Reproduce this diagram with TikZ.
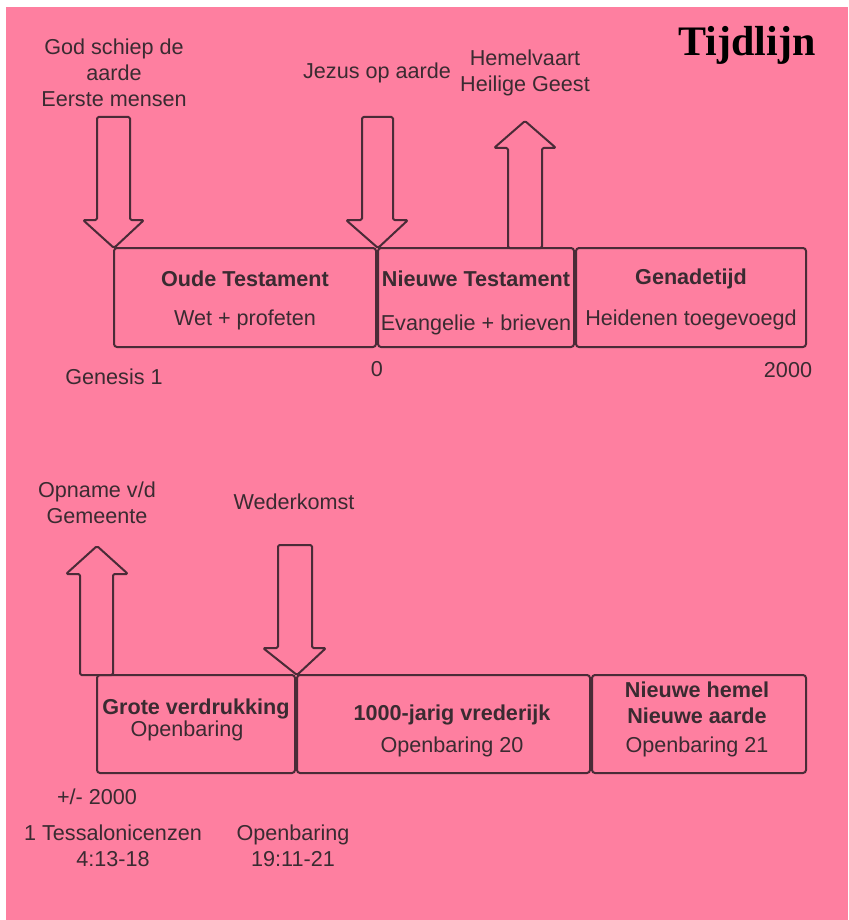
\documentclass[tikz,border=0pt]{standalone}
\usepackage{fontspec}
\setmainfont{Liberation Sans}
\newfontfamily\titlefont{Liberation Serif}
\definecolor{bgpink}{HTML}{FE7FA0}
\definecolor{edge}{HTML}{4A2B37}
\definecolor{ink}{HTML}{3A2B31}
\begin{document}
\begin{tikzpicture}[x=1pt,y=-1pt,
  lbl/.style={text=ink, font=\fontsize{21.6}{26}\selectfont, align=center, inner sep=0pt},
  hd/.style={text=ink, font=\bfseries\fontsize{21.6}{26}\selectfont, align=center, inner sep=0pt},
  period/.style={draw=edge, line width=2pt, rounded corners=3pt, anchor=north west, inner sep=0pt, outer sep=0pt},
  blockarrow/.style={draw=edge, line width=2pt, rounded corners=1.5pt, line join=round}]
\useasboundingbox (0,0) rectangle (848,920);
\fill[white] (0,0) rectangle (848,920);
\fill[bgpink] (6,7) rectangle (848,920);

% title
\node[text=black, font=\titlefont\bfseries\fontsize{42}{48}\selectfont, inner sep=0pt] (title) at (747,45) {Tijdlijn};

% ---------- top timeline ----------
\node[period, minimum width=262pt, minimum height=99pt] (ot) at (114,248) {};
\node[period, minimum width=196pt, minimum height=99pt] (nt) at (378,248) {};
\node[period, minimum width=230pt, minimum height=99pt] (gt) at (576,248) {};

\node[hd] (otH) at (245,279) {Oude Testament};
\node[lbl] (otS) at (245,320) {Wet + profeten};
\node[hd] (ntH) at (476,279) {Nieuwe Testament};
\node[lbl] (ntS) at (476,325) {Evangelie + brieven};
\node[hd] (gtH) at (691,279) {Genadetijd};
\node[lbl] (gtS) at (691,320) {Heidenen toegevoegd};

% arrows top
\draw[blockarrow] (97,117) -- (130,117) -- (130,220) -- (144,220) -- (ot.north west) -- (83,220) -- (97,220) -- cycle;
\draw[blockarrow] (362,117) -- (393,117) -- (393,220) -- (408,220) -- (nt.north west) -- (346,220) -- (362,220) -- cycle;
\draw[blockarrow] (508,248) -- (508,148) -- (494,148) -- (525,121) -- (556,148) -- (542,148) -- (542,248) -- cycle;

\node[lbl] (god) at (114,73) {God schiep de\\aarde\\Eerste mensen};
\node[lbl] (jez) at (377,73) {Jezus op aarde};
\node[lbl] (hem) at (525,73) {Hemelvaart\\Heilige Geest};

\node[lbl] (gen) at (114,377) {Genesis 1};
\node[lbl] (zero) at (377,369) {0};
\node[lbl] (y2000) at (788,370) {2000};

% ---------- bottom timeline ----------
\node[period, minimum width=198pt, minimum height=98pt] (gv) at (97,675) {};
\node[period, minimum width=293pt, minimum height=98pt] (dk) at (297,675) {};
\node[period, minimum width=214pt, minimum height=98pt] (nh) at (592,675) {};

\node[hd] (gvH) at (196,709) {Grote verdrukking};
\node[lbl] (gvS) at (187,731) {Openbaring};
\node[hd] (dkH) at (452,715) {1000-jarig vrederijk};
\node[lbl] (dkS) at (452,747) {Openbaring 20};
\node[hd] (nhH) at (697,703) {Nieuwe hemel\\Nieuwe aarde};
\node[lbl] (nhS) at (697,747) {Openbaring 21};

\draw[blockarrow] (80,675) -- (80,574) -- (66,574) -- (97,546) -- (128,574) -- (113,574) -- (113,675) -- cycle;
\draw[blockarrow] (278,545) -- (312,545) -- (312,648) -- (326,648) -- (dk.north west) -- (263,648) -- (278,648) -- cycle;

\node[lbl] (opn) at (97,503) {Opname v/d\\Gemeente};
\node[lbl] (wed) at (294,502) {Wederkomst};

\node[lbl] (pm) at (97,797) {+/- 2000};
\node[lbl] (tes) at (113,846) {1 Tessalonicenzen\\4:13-18};
\node[lbl] (opb) at (293,846) {Openbaring\\19:11-21};
\end{tikzpicture}
\end{document}
